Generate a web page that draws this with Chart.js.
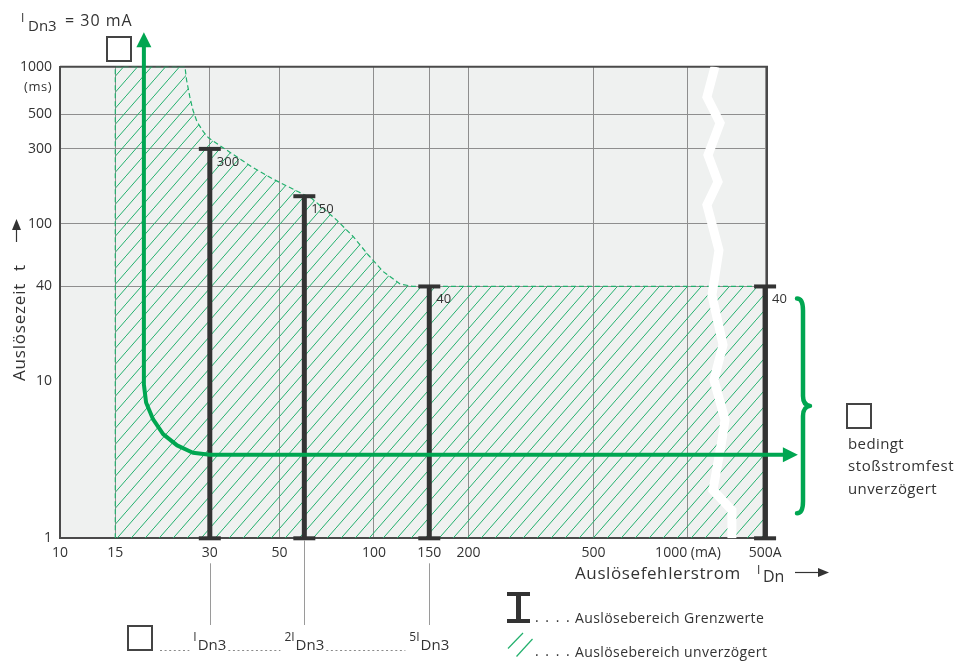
<!DOCTYPE html>
<html><head><meta charset="utf-8">
<script src="https://cdn.jsdelivr.net/npm/chart.js@4.4.1/dist/chart.umd.min.js"></script>
<style>html,body{margin:0;padding:0;background:#fff;}</style>
</head><body>
<canvas id="c" width="957" height="661"></canvas>
<script>
// ---------- data ----------
const xTickValues = [10, 15, 30, 50, 100, 150, 200, 500, 1000, 1760];
const xTickLabels = ['10', '15', '30', '50', '100', '150', '200', '500', '1000 (mA)', '500A'];
const yTickValues = [1, 10, 40, 100, 300, 500, 1000];
const yTickLabels = ['1', '10', '40', '100', '300', '500', '1000'];
const xMin = 10, xMax = 1785;   // mA (axis broken after 1000 mA; 1760 marks 500 A)
const yMin = 1, yMax = 1000;    // ms

// Auslösebereich Grenzwerte (I-bars): current in mA, max trip time in ms
const limitCurrent = [30, 60, 150, 1760];
const limitTime = [300, 150, 40, 40];
const limitLabels = ['300', '150', '40', '40'];

// Auslösebereich unverzögert (hatched zone) boundary
const zoneCurrent = [15, 15, 25, 25.3, 25.9, 26.5, 27.3, 28.6, 29.7, 33.5, 40.8, 47.2, 50.8, 57.4, 63.3, 76, 85.9, 95.9, 107, 121, 133, 1750];
const zoneTime    = [1, 1000, 1000, 823, 645, 530, 447, 386, 353, 300, 231, 195, 181, 160, 145.5, 106, 83, 63.4, 49.7, 41.5, 40, 40];

// green characteristic arrow
const arrowCurrent = [18.5, 18.5, 18.8, 19.8, 21.3, 23.6, 26.5, 30, 2020];
const arrowTime    = [1350, 9.5, 7.3, 5.7, 4.6, 3.9, 3.5, 3.4, 3.4];

// axis break (white zig-zag)
const breakCurrent = [1219, 1149, 1265, 1158, 1246, 1149, 1255, 1192, 1293, 1210, 1312, 1283, 1201, 1380, 1380];
const breakTime    = [1000, 642, 438, 274, 185, 132, 68, 35.3, 17.0, 10.2, 5.66, 4.22, 2.03, 1.51, 1];

// ---------- style ----------
const GREEN = '#00a651';
const HATCH = '#22b06d';
const DARK = '#333333';
const AXIS = '#4a4a4a';
const GRID = '#8e8e8e';
const FONT = "'Open Sans', 'Noto Sans', 'DejaVu Sans', sans-serif";
Chart.defaults.font.family = FONT;

const canvas = document.getElementById('c');
const mainCtx = canvas.getContext('2d');

function makePattern() {
  const c = document.createElement('canvas');
  c.width = 14; c.height = 16;
  const g = c.getContext('2d');
  g.strokeStyle = HATCH; g.lineWidth = 1;
  g.beginPath();
  g.moveTo(-2, 16 + 2 * 16 / 14); g.lineTo(16, -2 * 16 / 14);
  g.stroke();
  return mainCtx.createPattern(c, 'repeat');
}
const hatchPattern = makePattern();

const pts = (xs, ys) => xs.map((x, i) => ({ x: x, y: ys[i] }));

const datasets = [];
datasets.push({
  label: 'arrow', data: pts(arrowCurrent, arrowTime),
  borderColor: GREEN, borderWidth: 4, pointRadius: 0, tension: 0,
  clip: false, order: 1, borderJoinStyle: 'round', fill: false
});
limitCurrent.forEach((x, i) => datasets.push({
  label: 'limit' + i, data: [{ x: x, y: yMin }, { x: x, y: limitTime[i] }],
  borderColor: DARK, borderWidth: 5, pointStyle: 'line', pointRadius: 11,
  pointBorderWidth: 4, pointBorderColor: DARK, pointBackgroundColor: DARK,
  order: 2, clip: false, fill: false
}));
datasets.push({
  label: 'break', data: pts(breakCurrent, breakTime),
  borderColor: '#ffffff', borderWidth: 9, pointRadius: 0, tension: 0,
  borderJoinStyle: 'miter', order: 3, fill: false
});
datasets.push({
  label: 'zone', data: pts(zoneCurrent, zoneTime),
  borderColor: HATCH, borderWidth: 1.2, borderDash: [5, 3],
  backgroundColor: hatchPattern, fill: 'start', pointRadius: 0, tension: 0, order: 4
});

function box(ctx, x, y, s) {
  ctx.save(); ctx.strokeStyle = '#444'; ctx.lineWidth = 2;
  ctx.strokeRect(x, y, s, s); ctx.restore();
}
function txt(ctx, s, x, y, size, opts) {
  opts = opts || {};
  ctx.save();
  ctx.font = size + 'px ' + FONT;
  ctx.fillStyle = opts.color || DARK;
  ctx.textAlign = opts.align || 'left';
  ctx.textBaseline = opts.baseline || 'alphabetic';
  if ('letterSpacing' in ctx) ctx.letterSpacing = (opts.ls || 0) + 'px';
  ctx.fillText(s, x, y);
  const w = ctx.measureText(s).width;
  ctx.restore();
  return w;
}
function dots(ctx, x1, x2, y) {
  ctx.save(); ctx.strokeStyle = '#8a8a8a'; ctx.lineWidth = 1.2;
  ctx.setLineDash([2, 2.6]);
  ctx.beginPath(); ctx.moveTo(x1, y); ctx.lineTo(x2, y); ctx.stroke(); ctx.restore();
}
// I with subscript Dn3, prefixed by optional factor; returns width
function idn(ctx, prefix, x, base, measureOnly) {
  ctx.save();
  ctx.font = '12px ' + FONT;
  const w1 = ctx.measureText(prefix + 'I').width;
  ctx.font = '15px ' + FONT;
  const w2 = ctx.measureText('Dn3').width;
  ctx.restore();
  if (!measureOnly) {
    txt(ctx, prefix + 'I', x, base - 9, 12);
    txt(ctx, 'Dn3', x + w1 + 1, base, 15);
  }
  return w1 + 1 + w2;
}

const deco = {
  id: 'deco',
  beforeDraw(chart) {
    const { ctx, chartArea: a } = chart;
    ctx.save(); ctx.fillStyle = '#eff1f0';
    ctx.fillRect(a.left, a.top, a.right - a.left, a.bottom - a.top); ctx.restore();
  },
  beforeDatasetsDraw(chart) {
    const { ctx, chartArea: a } = chart;
    ctx.save(); ctx.strokeStyle = AXIS; ctx.lineWidth = 2;
    ctx.beginPath(); ctx.moveTo(a.left, a.top); ctx.lineTo(a.right, a.top); ctx.lineTo(a.right, a.bottom);
    ctx.stroke(); ctx.restore();
  },
  afterDraw(chart) {
    const { ctx, chartArea: a } = chart;
    const xs = chart.scales.x, ys = chart.scales.y;

    // arrow heads
    const am = chart.getDatasetMeta(0).data;
    const p0 = am[0], pN = am[am.length - 1];
    ctx.save(); ctx.fillStyle = GREEN;
    ctx.beginPath(); ctx.moveTo(p0.x, p0.y - 14); ctx.lineTo(p0.x - 7.5, p0.y + 1); ctx.lineTo(p0.x + 7.5, p0.y + 1); ctx.closePath(); ctx.fill();
    ctx.beginPath(); ctx.moveTo(pN.x + 14, pN.y); ctx.lineTo(pN.x - 1, pN.y - 7.5); ctx.lineTo(pN.x - 1, pN.y + 7.5); ctx.closePath(); ctx.fill();
    ctx.restore();

    // limit labels
    limitCurrent.forEach((x, i) => {
      const p = chart.getDatasetMeta(1 + i).data[1];
      txt(ctx, limitLabels[i], p.x + 7, p.y + 13, 13, { baseline: 'middle' });
    });

    // (ms)
    txt(ctx, '(ms)', a.left - 8, ys.getPixelForValue(1000) + 21, 13, { align: 'right', baseline: 'middle', ls: 0.5 });

    // top-left label + box
    txt(ctx, 'I', 21, 21.5, 12);
    txt(ctx, 'Dn3', 28, 30.5, 15);
    txt(ctx, '= 30 mA', 65, 26, 16, { ls: 1 });
    box(ctx, 107, 37, 24);

    // y axis title
    ctx.save();
    ctx.translate(25, 381); ctx.rotate(-Math.PI / 2);
    txt(ctx, 'Auslösezeit', 0, 0, 17, { ls: 0.8 });
    txt(ctx, 't', 110, 0, 17);
    ctx.strokeStyle = DARK; ctx.fillStyle = DARK; ctx.lineWidth = 1.2;
    ctx.beginPath(); ctx.moveTo(139, -8.5); ctx.lineTo(152, -8.5); ctx.stroke();
    ctx.beginPath(); ctx.moveTo(162, -8.5); ctx.lineTo(151, -13); ctx.lineTo(151, -4); ctx.closePath(); ctx.fill();
    ctx.restore();

    // x axis title
    txt(ctx, 'Auslösefehlerstrom', 575, 579, 17, { ls: 0.6 });
    txt(ctx, 'I', 757, 574, 12);
    txt(ctx, 'Dn', 763, 582, 16);
    ctx.save(); ctx.strokeStyle = DARK; ctx.fillStyle = DARK; ctx.lineWidth = 1.2;
    ctx.beginPath(); ctx.moveTo(795, 572.5); ctx.lineTo(819, 572.5); ctx.stroke();
    ctx.beginPath(); ctx.moveTo(829, 572.5); ctx.lineTo(818, 568); ctx.lineTo(818, 577); ctx.closePath(); ctx.fill();
    ctx.restore();

    // reference lines below axis to the multiples of I_Dn3
    const multX = [30, 60, 150];
    const multPrefix = ['', '2', '5'];
    ctx.save(); ctx.strokeStyle = '#9a9a9a'; ctx.lineWidth = 1;
    multX.forEach((v, i) => {
      const px = Math.round(xs.getPixelForValue(v)) + 0.5;
      ctx.beginPath(); ctx.moveTo(px, i === 1 ? a.bottom + 2 : a.bottom + 25); ctx.lineTo(px, 625); ctx.stroke();
    });
    ctx.restore();
    box(ctx, 128, 626, 24);
    let prevRight = 158;
    multX.forEach((v, i) => {
      const px = xs.getPixelForValue(v);
      const w = idn(ctx, multPrefix[i], 0, 650, true);
      const left = px - w / 2;
      dots(ctx, prevRight + 2, left - 4, 650.5);
      idn(ctx, multPrefix[i], left, 650);
      prevRight = left + w;
    });

    // legend
    ctx.save(); ctx.fillStyle = DARK;
    ctx.fillRect(507, 592, 23, 4);
    ctx.fillRect(516, 592, 5, 31);
    ctx.fillRect(507, 619, 23, 4);
    ctx.strokeStyle = HATCH; ctx.lineWidth = 1.2;
    ctx.beginPath(); ctx.moveTo(508, 648.5); ctx.lineTo(523, 633); ctx.stroke();
    ctx.beginPath(); ctx.moveTo(516.5, 656.5); ctx.lineTo(532.5, 639); ctx.stroke();
    ctx.restore();
    txt(ctx, '. . . .', 535, 622, 14, { ls: 1.5 });
    txt(ctx, 'Auslösebereich Grenzwerte', 575, 623, 14, { ls: 0.4 });
    txt(ctx, '. . . .', 535, 656, 14, { ls: 1.5 });
    txt(ctx, 'Auslösebereich unverzögert', 575, 657, 14, { ls: 0.4 });

    // brace
    const top = ys.getPixelForValue(40) + 12;
    const bottom = a.bottom - 25;
    const mid = (top + bottom) / 2;
    const bx = a.right + 36;
    ctx.save(); ctx.strokeStyle = GREEN; ctx.lineWidth = 4.5; ctx.lineCap = 'round'; ctx.lineJoin = 'round';
    ctx.beginPath();
    ctx.moveTo(bx - 6, top);
    ctx.quadraticCurveTo(bx, top, bx, top + 12);
    ctx.lineTo(bx, mid - 10);
    ctx.quadraticCurveTo(bx, mid - 1, bx + 7, mid);
    ctx.quadraticCurveTo(bx, mid + 1, bx, mid + 10);
    ctx.lineTo(bx, bottom - 12);
    ctx.quadraticCurveTo(bx, bottom, bx - 6, bottom);
    ctx.stroke(); ctx.restore();

    // right annotation
    box(ctx, 847, 404, 24);
    txt(ctx, 'bedingt', 848, 449, 15, { ls: 0.4 });
    txt(ctx, 'stoßstromfest', 848, 471, 15, { ls: 0.6 });
    txt(ctx, 'unverzögert', 848, 494, 15, { ls: 0.4 });
  }
};

new Chart(canvas, {
  type: 'line',
  data: { datasets: datasets },
  plugins: [deco],
  options: {
    responsive: false,
    animation: false,
    events: [],
    layout: { padding: { left: 0, top: 66.7, right: 190, bottom: 0 } },
    plugins: { legend: { display: false }, tooltip: { enabled: false }, title: { display: false } },
    scales: {
      x: {
        type: 'logarithmic', min: xMin, max: xMax, position: 'bottom',
        afterBuildTicks: s => { s.ticks = xTickValues.map(v => ({ value: v })); },
        afterFit: s => { s.height = 661 - 538.3; },
        grid: { color: GRID, lineWidth: 1, drawTicks: false },
        border: { display: true, color: AXIS, width: 2 },
        ticks: {
          autoSkip: false, maxRotation: 0, minRotation: 0, padding: 6, color: DARK,
          font: { family: FONT, size: 14 },
          callback: (v, i) => xTickLabels[i]
        }
      },
      y: {
        type: 'logarithmic', min: yMin, max: yMax, position: 'left',
        afterBuildTicks: s => { s.ticks = yTickValues.map(v => ({ value: v })); },
        afterFit: s => { s.width = 60; },
        grid: {
          color: c => (c.tick && c.tick.value === 10) ? 'rgba(0,0,0,0)' : GRID,
          lineWidth: 1, drawTicks: false
        },
        border: { display: true, color: AXIS, width: 2 },
        ticks: {
          autoSkip: false, padding: 8, color: DARK,
          font: { family: FONT, size: 14 },
          callback: (v, i) => yTickLabels[i]
        }
      }
    }
  }
});
</script>
</body></html>
